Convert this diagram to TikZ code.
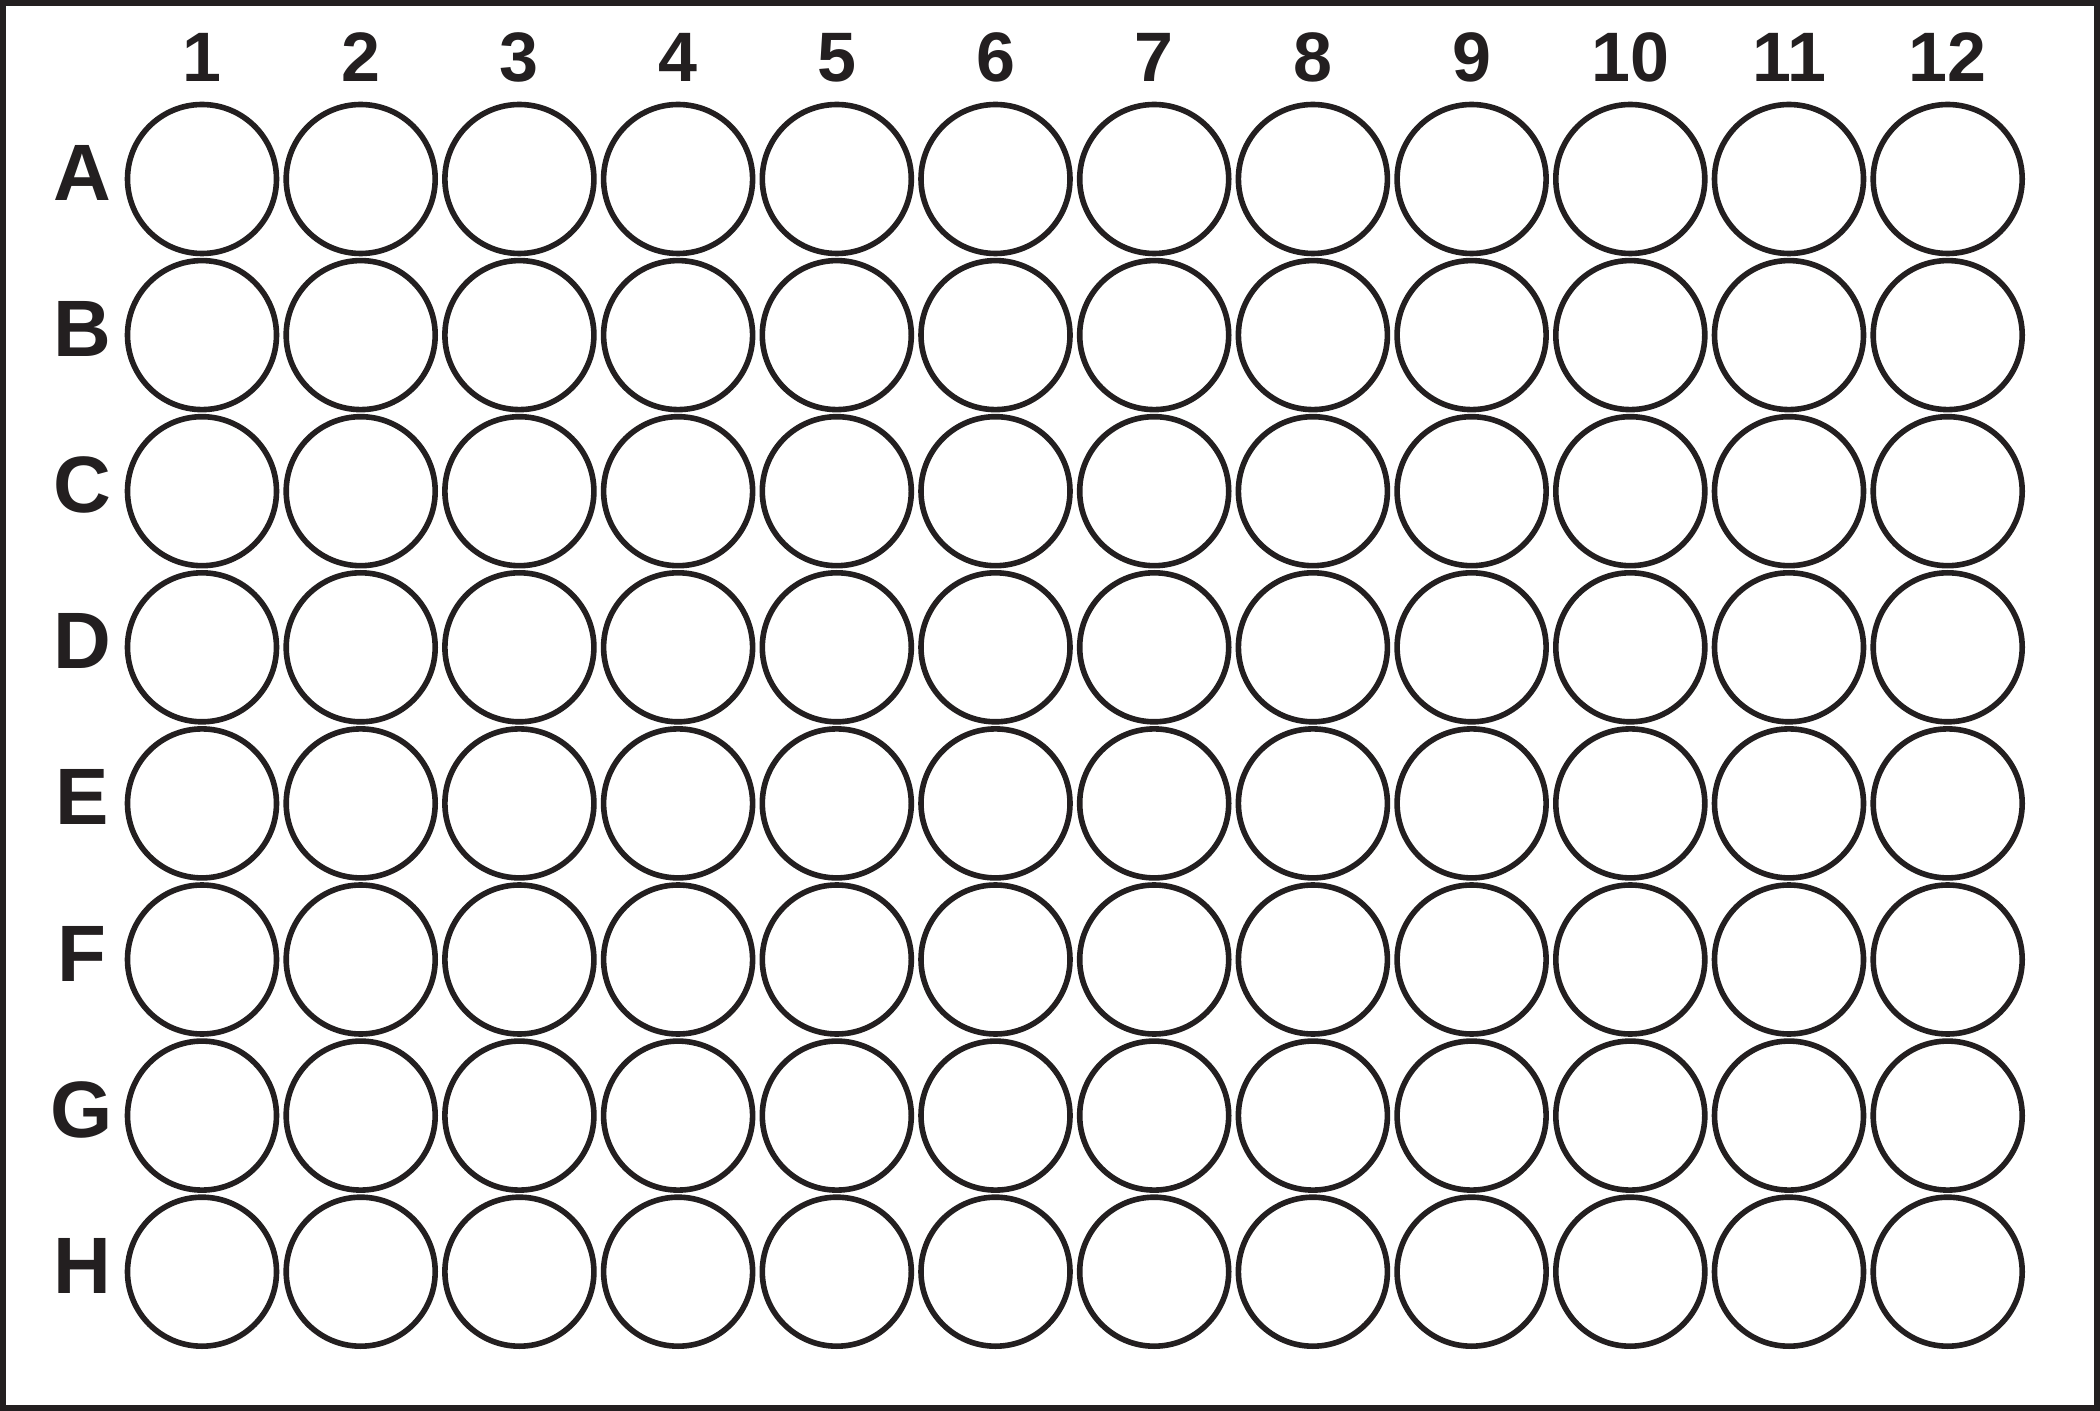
\documentclass[tikz,border=0pt]{standalone}
\usepackage{fontspec}
\setmainfont{Liberation Sans}
\definecolor{ink}{HTML}{231F20}
\begin{document}
\begin{tikzpicture}[x=0.5pt,y=-0.5pt,
  well/.style={circle,draw=ink,line width=2.8pt,minimum size=149pt*0.5*2/2,inner sep=0pt,fill=white},
  collabel/.style={anchor=base,text=ink,font=\fontsize{35pt}{35pt}\selectfont\bfseries,inner sep=0pt},
  rowlabel/.style={anchor=base,text=ink,font=\fontsize{40pt}{40pt}\selectfont\bfseries,inner sep=0pt}]
\useasboundingbox (0,0) rectangle (2100,1411);
\fill[white] (0,0) rectangle (2100,1411);
\draw[ink,line width=3pt] (3,3) rectangle (2097,1408);
\foreach \c in {1,...,12}{
  \pgfmathsetmacro{\cx}{202+(\c-1)*158.7}
  \node[collabel] (col\c) at (\cx,82) {\c};
}
\foreach \r [count=\i] in {A,B,C,D,E,F,G,H}{
  \pgfmathsetmacro{\cy}{179+(\i-1)*156.1}
  \pgfmathsetmacro{\by}{\cy+21.5}
  \node[rowlabel] (row\r) at (82,\by) {\r};
  \foreach \c in {1,...,12}{
    \pgfmathsetmacro{\cx}{202+(\c-1)*158.7}
    \node[well,minimum size=74.5pt] (w\r\c) at (\cx,\cy) {};
  }
}
\end{tikzpicture}
\end{document}
